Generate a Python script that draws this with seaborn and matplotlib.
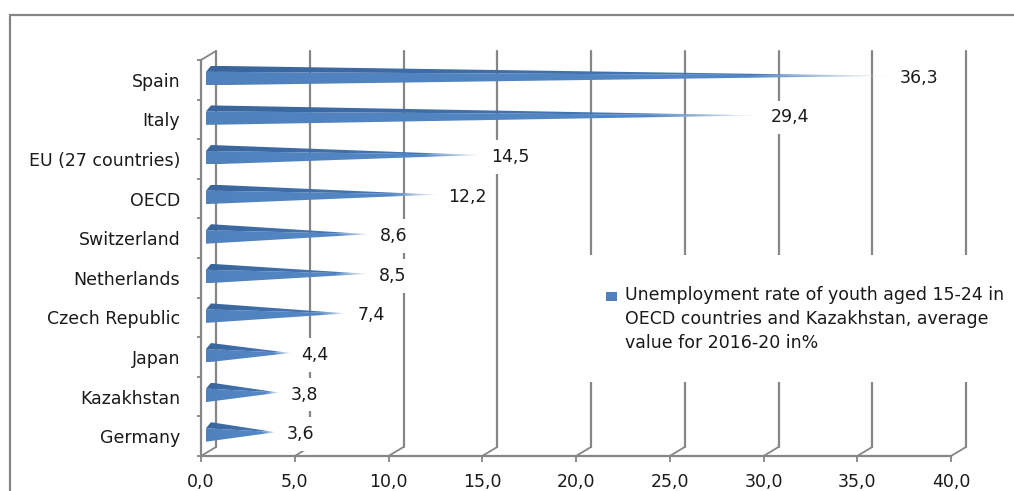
import numpy as np
import pandas as pd
import seaborn as sns
import matplotlib.pyplot as plt
from matplotlib.patches import Polygon, Rectangle
from matplotlib.colors import LinearSegmentedColormap

countries = ["Spain", "Italy", "EU (27 countries)", "OECD", "Switzerland",
             "Netherlands", "Czech Republic", "Japan", "Kazakhstan", "Germany"]
rates = [36.3, 29.4, 14.5, 12.2, 8.6, 8.5, 7.4, 4.4, 3.8, 3.6]
x_ticks = [0, 5, 10, 15, 20, 25, 30, 35, 40]
legend_label = ("Unemployment rate of youth aged 15-24 in\n"
                "OECD countries and Kazakhstan, average\n"
                "value for 2016-20 in%")

W, H = 1014, 491
sns.set_style("white")
plt.rcParams['font.family'] = ['DejaVu Sans']

front_c = "#4F81BD"
top_c = "#3A659C"
grid_c = "#868686"
text_c = "#1a1a1a"
fs = 12.5

# fade towards the tip of each pyramid
front_cmap = LinearSegmentedColormap.from_list(
    "front", [(0, front_c), (0.8, "#5388c6"), (1.0, "#e4ecf6")])
top_cmap = LinearSegmentedColormap.from_list(
    "top", [(0, top_c), (0.8, "#4677b5"), (1.0, "#dde7f3")])
grad = np.linspace(0, 1, 256).reshape(1, -1)

fig = plt.figure(figsize=(W / 100, H / 100), dpi=100)
# plot box in image pixels
L, R, T, B = 201, 951, 60, 456
ax = fig.add_axes([L / W, 1 - B / H, (R - L) / W, (B - T) / H])

df = pd.DataFrame({"country": countries, "rate": rates})
sns.barplot(data=df, x="rate", y="country", orient="h", ax=ax, color=front_c)
ax.set_xlim(0, 40)
n = len(countries)
ax.set_ylim(n - 0.5, -0.5)

ux = 40 / (R - L)   # data units per pixel (x)
uy = n / (B - T)    # data units per pixel (y, downwards)


def pt(xd, yd, dx, dy):
    # shift a data point by dx px right and dy px down
    return (xd + dx * ux, yd + dy * uy)


# 3D-ish back wall gridlines
y_top, y_bot = -0.5, n - 0.5
for t in x_ticks:
    xb, yb = pt(t, y_bot, 15, -9)
    _, yt = pt(t, y_top, 15, -9)
    ax.plot([xb, xb], [yb, yt], color=grid_c, lw=1.6, zorder=1, clip_on=False)
    ax.plot([t, xb], [y_bot, yb], color=grid_c, lw=1.3, zorder=1, clip_on=False)
    if t == 0:
        ax.plot([t, xb], [y_top, yt], color=grid_c, lw=1.3, zorder=1, clip_on=False)

# turn the seaborn bars into pyramids
for p in list(ax.patches):
    yc = p.get_y() + p.get_height() / 2
    v = p.get_width()
    p.remove()
    a = pt(0, yc, 5, -8)
    b = pt(0, yc, 5, 5.5)
    c = pt(0, yc, 10, -14)
    tip = pt(v, yc, 7, -4)
    for verts, cmap in [([a, b, tip], front_cmap), ([a, c, tip], top_cmap)]:
        poly = Polygon(verts, closed=True, fc="none", ec="none")
        ax.add_patch(poly)
        ys = [q[1] for q in verts]
        im = ax.imshow(grad, cmap=cmap, aspect="auto", zorder=3,
                       extent=[a[0], tip[0], max(ys), min(ys)],
                       interpolation="bilinear")
        im.set_clip_path(poly)
    lx, ly = pt(v, yc, 18, -2)
    ax.text(lx, ly, f"{v:.1f}".replace(".", ","), ha="left", va="center",
            fontsize=fs, color=text_c, zorder=2.5,
            bbox=dict(boxstyle="square,pad=0.45", fc="white", ec="none"))

ax.set_xlim(0, 40)
ax.set_ylim(n - 0.5, -0.5)

for s in ["top", "right"]:
    ax.spines[s].set_visible(False)
for s in ["left", "bottom"]:
    ax.spines[s].set_color(grid_c)
    ax.spines[s].set_linewidth(1.6)

ax.set_xticks(x_ticks)
ax.set_xticklabels([f"{t:.1f}".replace(".", ",") for t in x_ticks])
ax.set_yticks(np.arange(-0.5, n), minor=True)
ax.tick_params(axis="x", bottom=True, length=4, width=1.3, color=grid_c,
               pad=8.5, labelsize=fs, labelcolor=text_c)
ax.tick_params(axis="y", which="major", left=False, length=0, pad=15,
               labelsize=fs, labelcolor=text_c)
ax.tick_params(axis="y", which="minor", left=True, length=3, width=1.3, color=grid_c)
ax.set_xlabel("")
ax.set_ylabel("")

# legend block
ax.add_patch(Rectangle((588 / W, 1 - 382 / H), (1012 - 588) / W, (382 - 255) / H,
                       transform=fig.transFigure, fc="white", ec="none",
                       zorder=2, clip_on=False))
ax.add_patch(Rectangle((606 / W, 1 - 301 / H), 11 / W, 9 / H,
                       transform=fig.transFigure, fc=front_c, ec="none",
                       zorder=2.6, clip_on=False))
ax.text(625 / W, 1 - 286 / H, legend_label, transform=fig.transFigure,
        ha="left", va="top", fontsize=fs, linespacing=1.42, color=text_c, zorder=2.6)

# outer chart border
fig.add_artist(Rectangle((10 / W, -0.1), 1.2, 1 - 15 / H + 0.1,
                         transform=fig.transFigure, fill=False, ec=grid_c, lw=1.6))

fig.savefig("out.png", dpi=100)
